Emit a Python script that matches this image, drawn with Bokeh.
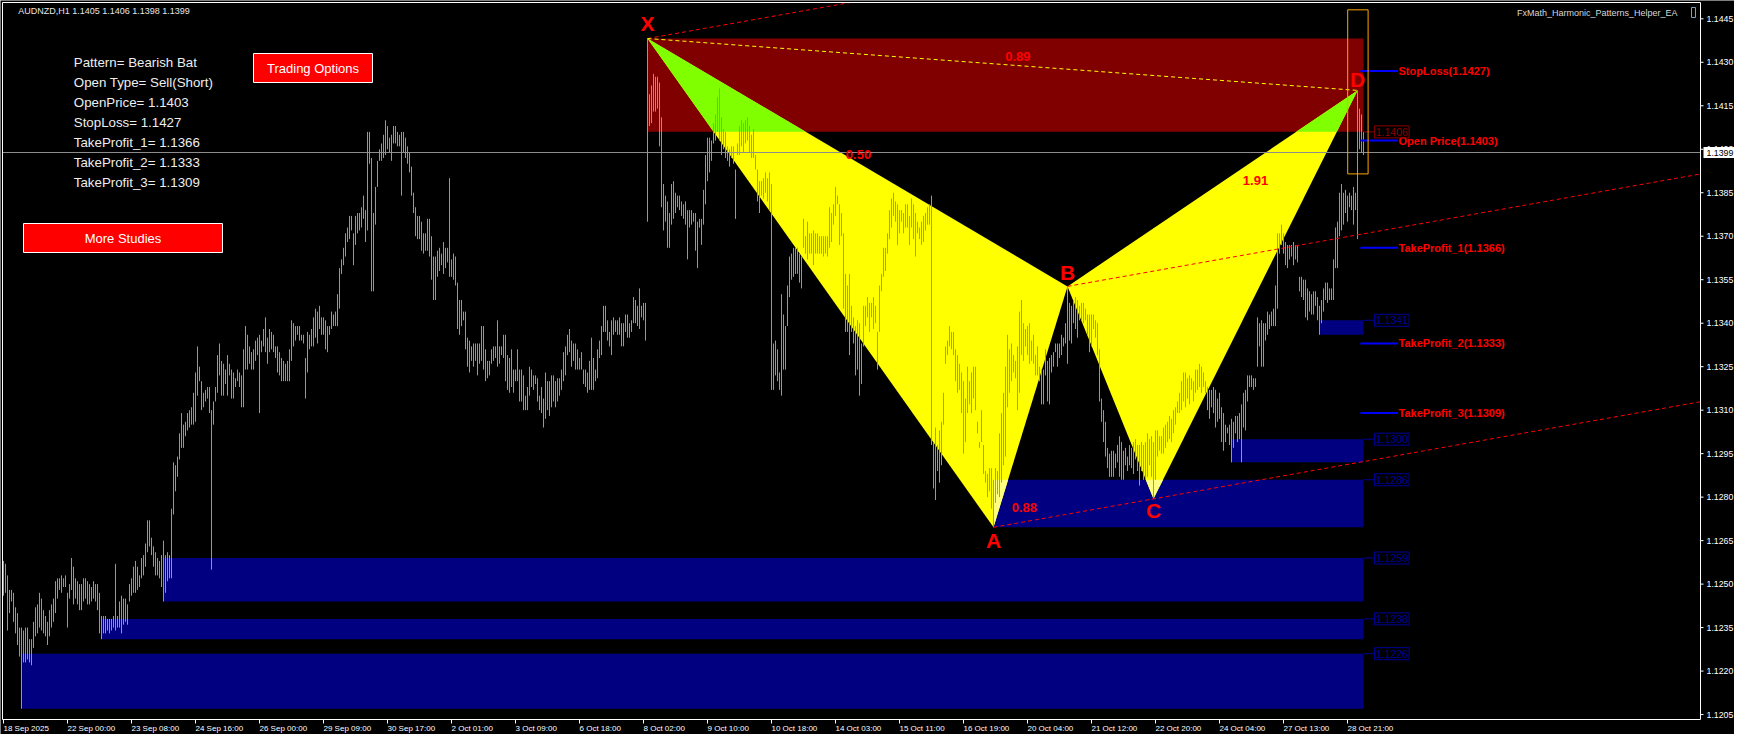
from bokeh.plotting import figure
from bokeh.models import Range1d
from bokeh.core.properties import value
from bokeh.embed import file_html
from bokeh.resources import INLINE

# ---------------- data ----------------
SYMBOL = "AUDNZD,H1"
HEADER_OHLC = [1.1405, 1.1406, 1.1398, 1.1399]
EA_NAME = "FxMath_Harmonic_Patterns_Helper_EA"

BASE_PRICE = 1.12000   # bar values below are pips above this price
PIP = 0.0001

BAR_HIGH_PIPS = [
    58, 57, 53, 48, 48, 47, 42, 40, 35, 35,
    34, 35, 35, 31, 31, 37, 42, 43, 47, 45,
    41, 39, 37, 41, 43, 45, 51, 52, 52, 53,
    52, 53, 47, 50, 59, 56, 52, 51, 50, 50,
    52, 52, 51, 50, 49, 51, 50, 50, 47, 39,
    39, 39, 38, 38, 38, 39, 57, 39, 44, 46,
    45, 45, 43, 50, 52, 56, 58, 56, 53, 59,
    60, 64, 72, 72, 66, 63, 61, 59, 58, 60,
    65, 60, 61, 60, 76, 92, 91, 94, 102, 109,
    105, 106, 109, 110, 111, 116, 123, 132, 125, 120,
    116, 117, 118, 118, 110, 113, 118, 129, 133, 127,
    126, 124, 129, 126, 124, 123, 121, 124, 123, 122,
    131, 139, 136, 132, 130, 131, 134, 135, 136, 134,
    138, 142, 135, 138, 137, 136, 132, 132, 130, 128,
    127, 126, 127, 131, 141, 140, 139, 139, 139, 136,
    136, 128, 137, 136, 138, 142, 145, 144, 146, 142,
    142, 141, 139, 139, 144, 143, 144, 150, 159, 162,
    166, 171, 173, 177, 177, 171, 177, 178, 178, 180,
    184, 179, 206, 206, 197, 178, 187, 196, 200, 202,
    205, 210, 208, 204, 205, 208, 208, 206, 205, 206,
    206, 204, 201, 199, 194, 185, 180, 177, 177, 175,
    171, 171, 176, 176, 170, 163, 163, 165, 166, 164,
    168, 166, 166, 190,
    162, 164, 163, 154, 148, 148, 144, 144, 135, 134,
    132, 133, 133, 133, 133, 139, 139, 131, 127, 127,
    131, 132, 132, 141, 132, 132, 136, 136, 129, 128,
    131, 124, 124, 131, 124, 124, 122, 115, 118, 125,
    124, 122, 122, 121, 115, 118, 114, 123, 120, 120,
    122, 122, 120, 121, 121, 124, 130, 132, 136, 138,
    134, 133, 133, 131, 128, 130, 124, 124, 123, 127,
    135, 128, 124, 131, 134, 139, 146, 146, 141, 137,
    141, 142, 141, 141, 142, 140, 140, 143, 143, 140,
    141, 149, 148, 146, 152, 146, 147, 147, 238.2, 219,
    222, 226, 225, 225, 223, 211, 188, 184, 182, 178,
    188, 189, 185, 184, 184, 182, 181, 182, 179, 179,
    179, 178, 178, 175, 176, 176, 186, 198, 204, 204,
    203, 209, 212, 218, 221, 211, 207, 206, 201, 200,
    201, 201, 193, 202, 208, 210, 209, 210, 211, 208,
    205, 207, 198, 193, 189, 189, 190, 192, 190, 192,
    188, 133, 134, 131, 123, 150, 143, 139, 153, 163,
    164, 166, 166, 166, 164, 163, 176, 170, 175, 171,
    171, 172, 171, 171, 170, 170, 170, 170, 170, 180,
    178, 181, 187, 184, 181, 178, 171, 157, 153, 157,
    146, 142, 139, 141, 140, 133, 146, 146, 149, 147,
    147, 149, 146, 137, 153, 157, 166, 166, 171, 179,
    183, 185, 182, 181, 179, 179, 178, 181, 181, 177,
    183, 181, 178, 175, 173, 175, 177, 178, 180, 181,
    184, 99, 104, 98, 103, 106, 116, 132, 134, 139,
    137, 137, 131, 129, 126, 123, 120, 114, 125, 120,
    123, 125, 125, 106, 99, 110, 98, 89, 88, 90,
    90, 86, 90, 89, 102, 109, 116, 125, 136, 131,
    133, 129, 127, 132, 144, 148, 140, 138, 139, 140,
    134, 136, 129, 132, 125, 124, 124, 131, 127, 128,
    129, 130, 133, 133, 133, 136, 135, 140, 152.7, 147,
    146, 148, 149, 148, 146, 147, 147, 145, 143, 143,
    143, 143, 141, 140, 131, 114, 110, 106, 97, 95,
    96, 96, 95, 98, 101, 99, 96, 97, 94, 98,
    97, 99, 100, 98, 98, 99, 98, 99, 102, 100,
    101, 99, 103, 103, 101, 101, 104, 105, 106, 108,
    107, 110, 111, 113, 116, 120, 123, 123, 121, 122,
    121, 120, 124, 124, 126, 125, 123, 120, 118, 117,
    117, 118, 117, 114, 116, 111, 109, 105, 104, 105,
    107, 106, 108, 108, 109, 112, 116, 117, 122, 122,
    122, 121, 121, 142, 140, 141, 140, 140, 144, 143,
    144, 145, 153, 171, 171, 174, 171, 168, 167, 167,
    167, 168, 167, 167, 156, 156, 155, 155, 152, 151,
    150, 151, 151, 149, 146, 148, 152, 154, 154, 152,
    152, 162, 173, 175, 185, 188, 185, 186, 184, 185,
    184, 187, 185, 220.3, 214, 212, 206,
]

BAR_LOW_PIPS = [
    46, 47, 34, 40, 44, 37, 33, 29, 25, 7,
    23, 23, 24, 23, 22, 28, 32, 33, 35, 34,
    33, 32, 29, 32, 35, 37, 40, 45, 48, 47,
    49, 49, 35, 45, 48, 43, 45, 43, 41, 41,
    44, 45, 43, 43, 44, 45, 44, 41, 33, 31,
    33, 33, 34, 33, 34, 35, 34, 35, 35, 33,
    36, 37, 36, 44, 46, 47, 47, 48, 49, 52,
    53, 56, 61, 63, 60, 56, 53, 53, 52, 49,
    44, 47, 51, 52, 52, 74, 82, 87, 93, 97,
    97, 101, 103, 104, 105, 105, 106, 115, 120, 110,
    111, 113, 114, 109, 55, 105, 113, 116, 122, 115,
    115, 119, 115, 122, 114, 114, 118, 120, 118, 111,
    111, 124, 124, 126, 124, 124, 127, 129, 109, 130,
    132, 130, 126, 130, 131, 130, 128, 123, 122, 120,
    120, 120, 120, 120, 127, 132, 134, 136, 134, 134,
    133, 114, 123, 131, 132, 132, 135, 133, 138, 136,
    136, 131, 130, 136, 138, 139, 139, 139, 145, 157,
    160, 163, 168, 169, 172, 160, 167, 171, 172, 173,
    176, 168, 172, 195, 151, 151, 174, 187, 196, 196,
    197, 198, 200, 199, 196, 202, 202, 201, 201, 184,
    199, 197, 195, 192, 184, 178, 170, 169, 169, 165,
    164, 165, 165, 163, 155, 148, 148, 156, 158, 160,
    157, 159, 161, 156,
    156, 155, 153, 138, 136, 139, 141, 131, 125, 123,
    127, 125, 127, 122, 126, 127, 124, 120, 121, 122,
    126, 127, 128, 125, 126, 129, 128, 120, 117, 116,
    118, 116, 120, 120, 113, 113, 110, 110, 110, 115,
    118, 117, 119, 113, 110, 109, 104, 107, 110, 108,
    111, 113, 111, 113, 115, 117, 120, 122, 129, 130,
    125, 127, 124, 124, 124, 124, 119, 118, 116, 117,
    117, 117, 120, 121, 128, 129, 137, 137, 134, 132,
    129, 136, 137, 136, 136, 132, 132, 137, 135, 135,
    137, 140, 140, 139, 138, 142, 141, 134, 175, 208,
    209, 213, 213, 214, 201, 180, 172, 175, 166, 166,
    174, 176, 178, 180, 179, 177, 176, 174, 162, 173,
    174, 175, 165, 159, 173, 167, 174, 181, 189, 192,
    196, 202, 203, 206, 203, 198, 200, 197, 196, 194,
    197, 195, 176, 198, 198, 201, 199, 202, 203, 199,
    197, 197, 193, 182, 178, 184, 183, 185, 182, 179,
    117, 117, 122, 120, 117, 115, 124, 124, 139, 149,
    155, 156, 157, 157, 154, 152, 166, 164, 162, 164,
    164, 160, 164, 164, 164, 164, 163, 164, 163, 166,
    168, 174, 177, 181, 167, 170, 145, 137, 137, 129,
    137, 133, 122, 124, 115, 119, 132, 139, 142, 137,
    142, 138, 140, 124, 137, 151, 156, 158, 164, 169,
    173, 177, 175, 167, 171, 175, 171, 173, 173, 167,
    173, 169, 163, 171, 169, 167, 168, 172, 174, 174,
    98, 83, 79, 89, 85, 91, 105, 126, 129, 132,
    131, 129, 120, 116, 117, 109, 95, 99, 109, 112,
    109, 114, 110, 102, 97, 99, 88, 85, 80, 82,
    76, 69.6, 78, 81, 80, 85, 91, 94, 111, 116,
    120, 123, 121, 110, 116, 129, 127, 132, 129, 126,
    127, 126, 122, 122, 120, 112, 112, 122, 113, 112,
    123, 125, 130, 125, 128, 129, 132, 133, 126, 134,
    133, 140, 138, 135, 141, 141, 140, 141, 136, 130,
    132, 138, 135, 129, 113, 106, 99, 94, 90, 87,
    87, 87, 90, 92, 87, 86, 86, 91, 89, 91,
    90, 88, 93, 89, 84, 89, 86, 86, 87, 91,
    87, 79.4, 86, 94, 96, 95, 95, 97, 99, 100,
    99, 102, 105, 109, 109, 110, 113, 111, 114, 112,
    117, 113, 116, 117, 118, 116, 118, 116, 110, 107,
    111, 109, 104, 106, 107, 99, 96, 99, 102, 98,
    92, 97, 102, 99, 100, 92, 104, 103, 113, 118,
    118, 117, 118, 125, 132, 125, 125, 134, 136, 138,
    139, 139, 139, 145, 164, 167, 164, 160, 159, 162,
    163, 160, 162, 161, 151, 149, 148, 142, 141, 144,
    143, 143, 146, 141, 136, 140, 144, 148, 147, 148,
    148, 148, 159, 159, 170, 172, 174, 178, 175, 180,
    179, 174, 179, 169, 200, 199, 198,
]

X_TICK_BARS = [0, 32, 64, 96, 128, 160, 192, 224, 256, 288, 320,
               352, 384, 416, 448, 480, 512, 544, 576, 608, 640, 672]
X_TICK_LABELS = ["18 Sep 2025", "22 Sep 00:00", "23 Sep 08:00", "24 Sep 16:00",
                 "26 Sep 00:00", "29 Sep 09:00", "30 Sep 17:00", "2 Oct 01:00",
                 "3 Oct 09:00", "6 Oct 18:00", "8 Oct 02:00", "9 Oct 10:00",
                 "10 Oct 18:00", "14 Oct 03:00", "15 Oct 11:00", "16 Oct 19:00",
                 "20 Oct 04:00", "21 Oct 12:00", "22 Oct 20:00", "24 Oct 04:00",
                 "27 Oct 13:00", "28 Oct 21:00"]
Y_TICKS = [1.1205, 1.1220, 1.1235, 1.1250, 1.1265, 1.1280, 1.1295, 1.1310, 1.1325,
           1.1340, 1.1355, 1.1370, 1.1385, 1.1400, 1.1415, 1.1430, 1.1445]

PATTERN_NAME = "Bearish Bat"
OPEN_TYPE = "Sell(Short)"
PATTERN_POINTS = ["X", "A", "B", "C", "D"]
PATTERN_BARS = [322, 495, 532, 575, 677]
PATTERN_SIDES = ["high", "low", "high", "low", "high"]

RATIO_TEXTS = ["0.89", "0.50", "1.91", "0.88"]
RATIO_BARS = [507.2, 427.5, 626.0, 510.4]
RATIO_PRICES = [1.14320, 1.13983, 1.13892, 1.12765]

PRZ_LOW = 1.1406
ZONE_TOPS = [1.1341, 1.1300, 1.1286, 1.1259, 1.1238, 1.1226]
ZONE_BARS = [658, 614, 495, 80, 49, 9]

TRADE_NAMES = ["StopLoss", "Open Price", "TakeProfit_1", "TakeProfit_2", "TakeProfit_3"]
TRADE_LEVELS = [1.1427, 1.1403, 1.1366, 1.1333, 1.1309]
CURRENT_PRICE = 1.1399

# ---------------- styles / layout ----------------
FONT = "Liberation Sans"
F = value(FONT)
GREEN = "#36dc36"
NAVY = "#000080"
MAROON = "#800000"
YELLOW = "#ffff00"
RED = "#ff0000"

CW, CH = 1734, 734              # canvas size
BPX = 0.5                       # bars per pixel (2 px per bar)
XL = -1.5                       # bar index at canvas x = 0
PPX = 1 / 28990                 # price per pixel
YT = 1.1445 + 18.3 * PPX        # price at canvas y = 0
CLF, CTF, CR, CB = 2, 2, 1700, 719   # chart box edges (canvas px)


def cx(px):
    return XL + px * BPX


def cy(py):
    return YT - py * PPX


def py_of(price):
    return (YT - price) / PPX


X0, X1 = cx(CLF), cx(CR)
Y0, Y1 = cy(CB), cy(CTF)

high = [BASE_PRICE + h * PIP for h in BAR_HIGH_PIPS]
low = [BASE_PRICE + v * PIP for v in BAR_LOW_PIPS]
n = min(len(high), len(low))
high, low = high[:n], low[:n]
bars = list(range(n))
last = n - 1

pts = [(b, high[b] if s == "high" else low[b]) for b, s in zip(PATTERN_BARS, PATTERN_SIDES)]
Xp, Ap, Bp, Cp, Dp = pts

p = figure(frame_width=CW, frame_height=CH,
           x_range=Range1d(cx(0), cx(CW)), y_range=Range1d(cy(CH), cy(0)),
           x_axis_location=None, y_axis_location=None,
           toolbar_location=None, output_backend="svg",
           background_fill_color="black", border_fill_color="black",
           min_border=0, outline_line_color=None)
p.grid.visible = False

# zones and PRZ box
zone_bottom = [low[b] for b in ZONE_BARS]
p.quad(left=ZONE_BARS, right=[last] * len(ZONE_BARS), bottom=zone_bottom, top=ZONE_TOPS,
       fill_color=NAVY, line_color=None)
p.quad(left=[Xp[0]], right=[last], bottom=[PRZ_LOW], top=[Xp[1]],
       fill_color=MAROON, line_color=None)

# pattern triangles
tris = [[Xp, Ap, Bp], [Bp, Cp, Dp]]
p.patches(xs=[[q[0] for q in t] for t in tris], ys=[[q[1] for q in t] for t in tris],
          fill_color=YELLOW, line_color=None)


def clip_poly(poly, xmin, xmax, ymin, ymax):
    def clip(pl, inside, inter):
        out = []
        for i in range(len(pl)):
            cur, prev = pl[i], pl[i - 1]
            if inside(cur):
                if not inside(prev):
                    out.append(inter(prev, cur))
                out.append(cur)
            elif inside(prev):
                out.append(inter(prev, cur))
        return out

    def ix(a, b, x):
        t = (x - a[0]) / (b[0] - a[0])
        return (x, a[1] + t * (b[1] - a[1]))

    def iy(a, b, y):
        t = (y - a[1]) / (b[1] - a[1])
        return (a[0] + t * (b[0] - a[0]), y)

    steps = [
        (lambda q: q[0] >= xmin, lambda a, b: ix(a, b, xmin)),
        (lambda q: q[0] <= xmax, lambda a, b: ix(a, b, xmax)),
        (lambda q: q[1] >= ymin, lambda a, b: iy(a, b, ymin)),
        (lambda q: q[1] <= ymax, lambda a, b: iy(a, b, ymax)),
    ]
    for inside, inter in steps:
        if not poly:
            break
        poly = clip(poly, inside, inter)
    return poly


# where the filled objects overlap, the terminal mixes their colours
boxes = [(Xp[0], last, PRZ_LOW, Xp[1], "#7fff00")]
boxes += [(b, last, lo, tp, "#ffff80") for b, lo, tp in zip(ZONE_BARS, zone_bottom, ZONE_TOPS)]
oxs, oys, ocs = [], [], []
for t in tris:
    for (l, r, b, tp, c) in boxes:
        poly = clip_poly(list(t), l, r, b, tp)
        if len(poly) >= 3:
            oxs.append([q[0] for q in poly])
            oys.append([q[1] for q in poly])
            ocs.append(c)
if oxs:
    p.patches(xs=oxs, ys=oys, fill_color=ocs, line_color=None)

# current price line (snapped to a whole pixel row)
cp_y = cy(round(py_of(CURRENT_PRICE)))
p.line([X0, X1], [cp_y, cp_y], line_color="#8c8c8c", line_width=1)

# price bars
p.segment(x0=bars, y0=low, x1=bars, y1=high, line_color=GREEN, line_width=1)

# channel lines parallel to A-C
slope = (Cp[1] - Ap[1]) / (Cp[0] - Ap[0])
for s in (Xp, Bp, Ap):
    xe = X1
    if s[1] + slope * (X1 - s[0]) > Y1:
        xe = s[0] + (Y1 - s[1]) / slope
    p.line([s[0], xe], [s[1], s[1] + slope * (xe - s[0])],
           line_color=RED, line_dash="4 3", line_width=1)
# X-D line
p.line([Xp[0], Dp[0]], [Xp[1], Dp[1]], line_color=YELLOW, line_dash="4 3", line_width=1)

# trade levels
TL0, TL1 = 678.45, 697.3
p.segment(x0=[TL0] * 5, y0=TRADE_LEVELS, x1=[TL1] * 5, y1=TRADE_LEVELS,
          line_color="#0000ff", line_width=2)
p.text(x=[TL1 + 0.2] * 5, y=TRADE_LEVELS,
       text=[f"{nm}({lv:.4f})" for nm, lv in zip(TRADE_NAMES, TRADE_LEVELS)],
       text_font=F, text_font_size="11px", text_font_style="bold",
       text_color=RED, text_align="left", text_baseline="middle")

# price tags of zones
LB0, LB1 = 685.45, 702.8
lv = [PRZ_LOW] + ZONE_TOPS
lc = ["#8a0000"] + ["#00009a"] * len(ZONE_TOPS)
p.segment(x0=[last] * len(lv), y0=lv, x1=[LB0] * len(lv), y1=lv, line_color=lc, line_width=1)
p.rect(x=[(LB0 + LB1) / 2] * len(lv), y=lv, width=LB1 - LB0, height=12, height_units="screen",
       fill_color=None, line_color=lc, line_width=1)
p.text(x=[(LB0 + LB1) / 2] * len(lv), y=lv, text=[f"{v:.4f}" for v in lv],
       text_font=F, text_font_size="10.5px", text_color=lc,
       text_align="center", text_baseline="middle")

# highlight box around the last bars
p.quad(left=[672.1], right=[682.3], bottom=[1.13915], top=[1.14481],
       fill_color=None, line_color="#ffa500", line_width=1)

# pattern point letters
offs = [-15, 13, -13.4, 11.7, -11.2]
p.text(x=[q[0] for q in pts], y=[q[1] - o * PPX for q, o in zip(pts, offs)], text=PATTERN_POINTS,
       text_font=F, text_font_size="21px", text_font_style="bold",
       text_color=RED, text_align="center", text_baseline="middle")

# ratios
p.text(x=RATIO_BARS, y=RATIO_PRICES, text=RATIO_TEXTS,
       text_font=F, text_font_size="13px", text_font_style="bold",
       text_color=RED, text_align="center", text_baseline="middle")

# ---- screen-anchored panel items (canvas px) ----
info = [f"Pattern= {PATTERN_NAME}", f"Open Type= {OPEN_TYPE}",
        f"OpenPrice= {TRADE_LEVELS[1]:.4f}", f"StopLoss= {TRADE_LEVELS[0]:.4f}",
        f"TakeProfit_1= {TRADE_LEVELS[2]:.4f}", f"TakeProfit_2= {TRADE_LEVELS[3]:.4f}",
        f"TakeProfit_3= {TRADE_LEVELS[4]:.4f}"]
p.text(x=[cx(73.3)] * len(info), y=[cy(61.7 + 20 * k) for k in range(len(info))], text=info,
       text_font=F, text_font_size="13.3px", text_color="#eeeeee",
       text_align="left", text_baseline="middle")

p.quad(left=[cx(253), cx(23)], right=[cx(372), cx(222)],
       top=[cy(53), cy(223)], bottom=[cy(82), cy(252)],
       fill_color=RED, line_color="white", line_width=1)
p.text(x=[cx(312.5), cx(122.5)], y=[cy(67.8), cy(237.8)],
       text=["Trading Options", "More Studies"],
       text_font=F, text_font_size="13px", text_color="white",
       text_align="center", text_baseline="middle")

hdr = SYMBOL + "  " + " ".join(f"{v:.4f}" for v in HEADER_OHLC)
p.text(x=[cx(17.7)], y=[cy(10.7)], text=[hdr], text_font=F, text_font_size="9px",
       text_color="#e6e6e6", text_align="left", text_baseline="middle")
p.text(x=[cx(CR - 23)], y=[cy(12)], text=[EA_NAME], text_font=F, text_font_size="9px",
       text_color="#d8d8d8", text_align="right", text_baseline="middle")
p.quad(left=[cx(CR - 9)], right=[cx(CR - 5)], top=[cy(7)], bottom=[cy(17)],
       fill_color=None, line_color="#7f9fbf", line_width=1)

# ---- chart frame and scales ----
p.quad(left=[X0], right=[X1], top=[Y1], bottom=[Y0],
       fill_color=None, line_color="white", line_width=1)

# price scale
p.segment(x0=[cx(CR)] * len(Y_TICKS), y0=Y_TICKS,
          x1=[cx(CR + 3)] * len(Y_TICKS), y1=Y_TICKS, line_color="white", line_width=1)
p.text(x=[cx(CR + 6)] * len(Y_TICKS), y=Y_TICKS, text=[f"{v:.4f}" for v in Y_TICKS],
       text_font=F, text_font_size="8.8px", text_color="white",
       text_align="left", text_baseline="middle")

# current price tag
p.quad(left=[cx(CR + 3)], right=[cx(CW)], top=[cp_y + 5.5 * PPX], bottom=[cp_y - 5.5 * PPX],
       fill_color="white", line_color=None)
p.text(x=[cx(CR + 6)], y=[cp_y], text=[f"{CURRENT_PRICE:.4f}"],
       text_font=F, text_font_size="8.8px", text_color="black",
       text_align="left", text_baseline="middle")

# time scale
p.segment(x0=X_TICK_BARS, y0=[Y0] * len(X_TICK_BARS),
          x1=X_TICK_BARS, y1=[cy(CB + 4)] * len(X_TICK_BARS), line_color="white", line_width=1)
p.text(x=X_TICK_BARS, y=[cy(CB + 8.8)] * len(X_TICK_BARS), text=X_TICK_LABELS,
       text_font=F, text_font_size="8px", text_color="white",
       text_align="left", text_baseline="middle")

open("out.html", "w").write(file_html(p, INLINE))
